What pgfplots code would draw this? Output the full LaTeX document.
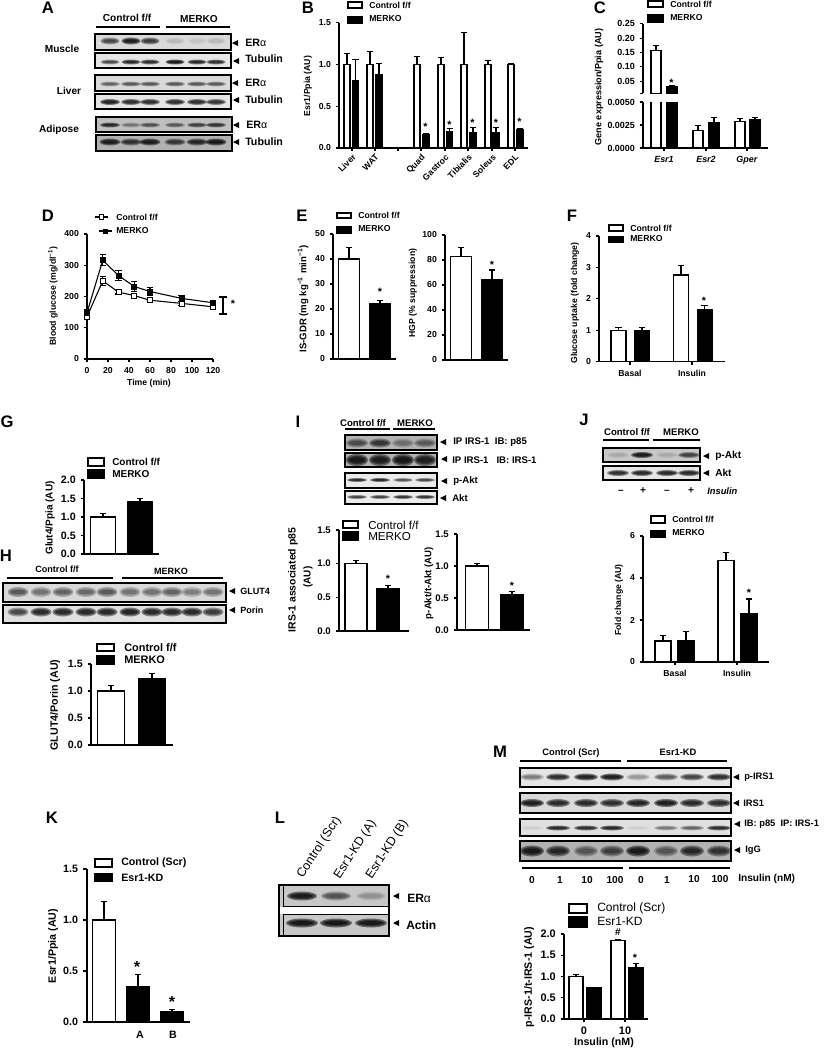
\documentclass[border=0pt]{standalone}
\usepackage{fontspec}
\setmainfont{Liberation Sans}
\usepackage{pgfplots}
\pgfplotsset{compat=1.18}

% 1 px of the reference = 0.75pt
\def\px{0.75pt}
\newcommand{\fs}[1]{\fontsize{#1}{#1}\selectfont}

\pgfplotsset{
  panel/.style n args={4}{
    scale only axis, anchor=south west,
    at={({#1*\px},{-#3*\px})},
    width={(#2-#1)*\px}, height={(#3-#4)*\px},
    xmin=#1, xmax=#2, ymin=0,
    axis x line=bottom, axis y line=left,
    axis line style={-, line width=0.9pt},
    tick align=outside, major tick length=2.6pt,
    tick style={black, line width=0.8pt},
    clip=false, xtick=\empty, scaled ticks=false,
    /pgf/number format/assume math mode=true,
    tick label style={font=\bfseries\fs{6.5}},
    y tick label style={/pgf/number format/.cd, fixed, fixed zerofill, precision=1},
  },
  onebar/.style 2 args={
    ybar, bar shift=0pt, bar width={#1*\px}, fill=#2, draw=black, line width=0.9pt,
    mark=none,
    error bars/.cd, y dir=plus, y explicit,
    error bar style={black, line width=0.8pt},
    error mark options={rotate=90, black, mark size=2.4pt, line width=0.8pt},
  },
  wb/.style={onebar={#1}{white}},
  kb/.style={onebar={#1}{black}},
  glc/.style={
    black, line width=0.8pt, mark=square*, mark size=1.9pt, mark options={fill=#1, draw=black, line width=0.6pt},
    error bars/.cd, y dir=both, y explicit,
    error bar style={black, line width=0.8pt},
    error mark options={rotate=90, black, mark size=2.4pt, line width=0.8pt},
  },
}

% pixel-placed text
\newcommand{\btxt}[4]{\node[anchor=west,inner sep=0pt,font=\bfseries\fs{#3}] at (#1,#2) {#4};}
\newcommand{\rtxt}[4]{\node[anchor=west,inner sep=0pt,font=\fs{#3}] at (#1,#2) {#4};}
\newcommand{\ctxt}[4]{\node[anchor=center,inner sep=0pt,font=\bfseries\fs{#3}] at (#1,#2) {#4};}
\newcommand{\vtxt}[4]{\node[anchor=center,rotate=90,inner sep=0pt,font=\bfseries\fs{#3}] at (#1,#2) {#4};}
\newcommand{\leg}[5]{\draw[black,line width=0.9pt,fill=#5] (#1,#2) rectangle (#3,#4);}
\newcommand{\arr}[2]{\fill[black] (#1,#2) -- (#1+6,#2-3) -- (#1+6,#2+3) -- cycle;}
\newcommand{\rul}[3]{\draw[black,line width=1pt] (#1,#3) -- (#2,#3);}
\newcommand{\astk}[2]{\node[anchor=center,inner sep=0pt,font=\bfseries\fs{8}] at (#1,#2+1.5) {*};}
\newcommand{\bastk}[2]{\node[anchor=center,inner sep=0pt,font=\bfseries\fs{12}] at (#1,#2+2) {*};}

% blot: x1 y1 x2 y2 background% band-y band-w band-h lanes(x/darkness)
\newcommand{\blot}[9]{%
  \begin{scope}
    \clip (#1,#2) rectangle (#3,#4);
    \fill[black!#5] (#1,#2) rectangle (#3,#4);
    \foreach \cx/\dk in {#9}{%
      \pgfmathsetmacro\op{\dk*0.5}%
      \fill[black,opacity=\op] (\cx,#6) ellipse ({#7/2} and {#8/2});
      \fill[black,opacity=\op] (\cx,#6) ellipse ({#7*0.43} and {#8*0.35});
      \fill[black,opacity=\op] (\cx,#6) ellipse ({#7*0.35} and {#8*0.22});
    }
  \end{scope}
  \draw[black,line width=0.95pt] (#1,#2) rectangle (#3,#4);
}

\begin{document}
\begin{tikzpicture}
\path[use as bounding box] (0pt,0pt) rectangle (624pt,-787.5pt);

% B
\begin{axis}[panel={339}{528}{148}{22.7}, ymax=1.5, ytick={0,0.5,1,1.5},
  xtick={352,375,398,421,445,468,492,515},
  xticklabels={Liver,WAT,,Quad,Gastroc,Tibialis,Soleus,EDL},
  x tick label style={rotate=45, anchor=north east, inner sep=1pt}]
\addplot[wb=6] coordinates {(347,1.0) +- (0,0.13)};
\addplot[kb=6] coordinates {(355.6,0.81) +- (0,0.25)};
\addplot[wb=6] coordinates {(370,1.0) +- (0,0.15)};
\addplot[kb=6] coordinates {(379,0.88) +- (0,0.13)};
\addplot[wb=6] coordinates {(417,1.0) +- (0,0.10)};
\addplot[kb=6] coordinates {(426,0.16) +- (0,0.01)};
\addplot[wb=6] coordinates {(441,1.0) +- (0,0.08)};
\addplot[kb=6] coordinates {(449.7,0.20) +- (0,0.03)};
\addplot[wb=6] coordinates {(464,1.0) +- (0,0.38)};
\addplot[kb=6] coordinates {(473,0.19) +- (0,0.05)};
\addplot[wb=6] coordinates {(488,1.0) +- (0,0.05)};
\addplot[kb=6] coordinates {(496,0.19) +- (0,0.05)};
\addplot[wb=6] coordinates {(511,1.0) +- (0,0.01)};
\addplot[kb=6] coordinates {(520,0.22) +- (0,0.015)};
\end{axis}

% C, broken axis: lower part
\begin{axis}[panel={643}{768}{148}{102}, ymax=0.005, clip=true, ytick={0,0.0025,0.005},
  tick label style={font=\bfseries\fs{6.7}},
  y tick label style={/pgf/number format/.cd, fixed, fixed zerofill, precision=4},
  xtick={664,706,747}, xticklabels={\textit{Esr1},\textit{Esr2},\textit{Gper}}]
\addplot[wb=10] coordinates {(656,0.157) +- (0,0.018)};
\addplot[kb=10] coordinates {(672,0.032) +- (0,0.002)};
\addplot[wb=10] coordinates {(698,0.0019) +- (0,0.0005)};
\addplot[kb=10] coordinates {(714,0.0028) +- (0,0.0005)};
\addplot[wb=10] coordinates {(740,0.0029) +- (0,0.0003)};
\addplot[kb=10] coordinates {(755,0.0031) +- (0,0.0002)};
\end{axis}
% C, upper part
\begin{axis}[panel={643}{768}{93.3}{23.7}, ymin=0.008, ymax=0.25, clip=true, axis x line=none,
  tick label style={font=\bfseries\fs{6.7}},
  ytick={0.008,0.05,0.10,0.15,0.20,0.25}, yticklabels={,0.05,0.10,0.15,0.20,0.25}]
\addplot[wb=10] coordinates {(656,0.157) +- (0,0.018)};
\addplot[kb=10] coordinates {(672,0.032) +- (0,0.002)};
\end{axis}

% D
\begin{axis}[panel={87}{213}{359}{234}, xmin=0, xmax=120, ymax=400,
  xtick={0,20,...,120}, ytick={0,100,...,400},
  y tick label style={/pgf/number format/.cd, fixed, precision=0}]
\addplot[glc=white] coordinates {
  (0,135) +- (0,10) (15,250) +- (0,14) (30,214) +- (0,6) (45,203) +- (0,8)
  (60,188) +- (0,7) (90,178) +- (0,6) (120,167) +- (0,5)};
\addplot[glc=black] coordinates {
  (0,148) +- (0,9) (15,316) +- (0,17) (30,267) +- (0,15) (45,232) +- (0,15)
  (60,216) +- (0,12) (90,194) +- (0,9) (120,180) +- (0,7)};
\end{axis}

% E left
\begin{axis}[panel={333}{396}{359}{234}, ymax=50, ytick={0,10,...,50},
  y tick label style={/pgf/number format/.cd, fixed, precision=0}]
\addplot[wb=21] coordinates {(349,40) +- (0,4.5)};
\addplot[kb=21] coordinates {(380,22) +- (0,1.5)};
\end{axis}
% E right
\begin{axis}[panel={445}{508}{360}{235}, ymax=100, ytick={0,20,...,100},
  y tick label style={/pgf/number format/.cd, fixed, precision=0}]
\addplot[wb=21] coordinates {(461,83) +- (0,7)};
\addplot[kb=21] coordinates {(492,64) +- (0,8)};
\end{axis}

% F
\begin{axis}[panel={599}{725}{361.7}{236}, ymax=4, ytick={0,1,...,4},
  y tick label style={/pgf/number format/.cd, fixed, precision=0},
  xtick={630,692}, xticklabels={Basal,Insulin}]
\addplot[wb=15] coordinates {(618.5,1.0) +- (0,0.08)};
\addplot[kb=15] coordinates {(642,1.0) +- (0,0.10)};
\addplot[wb=15] coordinates {(681,2.76) +- (0,0.29)};
\addplot[kb=15] coordinates {(704.6,1.66) +- (0,0.14)};
\end{axis}

% G
\begin{axis}[panel={84}{159}{554}{480}, ymax=2, ytick={0,0.5,...,2},
  tick label style={font=\bfseries\fs{8}}]
\addplot[wb=25] coordinates {(103,1.0) +- (0,0.10)};
\addplot[kb=25] coordinates {(140,1.41) +- (0,0.08)};
\end{axis}

% H
\begin{axis}[panel={91}{173}{745}{664}, ymax=1.5, ytick={0,0.5,...,1.5},
  tick label style={font=\bfseries\fs{8}}]
\addplot[wb=27] coordinates {(111,1.0) +- (0,0.10)};
\addplot[kb=27] coordinates {(152,1.23) +- (0,0.10)};
\end{axis}

% I left
\begin{axis}[panel={339}{409}{631}{530}, ymax=1.5, ytick={0,0.5,...,1.5},
  tick label style={font=\bfseries\fs{7.2}}]
\addplot[wb=22] coordinates {(356,1.0) +- (0,0.05)};
\addplot[kb=22] coordinates {(388,0.63) +- (0,0.05)};
\end{axis}
% I right
\begin{axis}[panel={457}{530}{630}{534}, ymax=1.5, ytick={0,0.5,...,1.5},
  tick label style={font=\bfseries\fs{7.2}}]
\addplot[wb=23] coordinates {(477,1.0) +- (0,0.04)};
\addplot[kb=23] coordinates {(512,0.56) +- (0,0.04)};
\end{axis}

% J
\begin{axis}[panel={643}{769}{662}{536}, ymax=6, ytick={0,2,4,6},
  y tick label style={/pgf/number format/.cd, fixed, precision=0},
  xtick={675,737}, xticklabels={Basal,Insulin}]
\addplot[wb=16] coordinates {(663,1.0) +- (0,0.25)};
\addplot[kb=16] coordinates {(686,1.0) +- (0,0.47)};
\addplot[wb=16] coordinates {(726,4.85) +- (0,0.37)};
\addplot[kb=16] coordinates {(749,2.3) +- (0,0.70)};
\end{axis}

% K
\begin{axis}[panel={87}{190}{1022}{869}, ymax=1.5, ytick={0,0.5,...,1.5},
  major tick length=3.2pt, tick label style={font=\bfseries\fs{8}},
  xtick={140,173}, xticklabels={A,B}, x tick style={draw=none}]
\addplot[wb=23] coordinates {(104,1.0) +- (0,0.18)};
\addplot[kb=23] coordinates {(138,0.35) +- (0,0.12)};
\addplot[kb=23] coordinates {(172,0.10) +- (0,0.02)};
\end{axis}

% M
\begin{axis}[panel={564}{648}{1019}{934}, ymax=2, ytick={0,0.5,...,2},
  tick label style={font=\bfseries\fs{8.2}},
  xtick={584,625}, xticklabels={0,10}]
\addplot[wb=14] coordinates {(576,1.0) +- (0,0.05)};
\addplot[kb=14] coordinates {(594,0.74) +- (0,0.01)};
\addplot[wb=14] coordinates {(618,1.85) +- (0,0.03)};
\addplot[kb=14] coordinates {(636,1.2) +- (0,0.10)};
\end{axis}

\begin{scope}[x=0.75pt,y=-0.75pt]
% panel letters
\ctxt{48}{8}{12.5}{A}\ctxt{308}{8}{12.5}{B}\ctxt{600}{8}{12.5}{C}
\ctxt{48}{216}{12.5}{D}\ctxt{302}{216}{12.5}{E}\ctxt{572}{216}{12.5}{F}
\ctxt{7}{422}{12.5}{G}\ctxt{6}{556}{12.5}{H}\ctxt{298}{422}{12.5}{I}
\ctxt{584}{420}{12.5}{J}\ctxt{52}{818}{12.5}{K}\ctxt{280}{818}{12.5}{L}\ctxt{500}{752}{12.5}{M}

% A blots
\ctxt{127}{18}{7.6}{Control f/f}\ctxt{199}{19}{7.6}{MERKO}
\rul{96}{160}{27}\rul{166}{230}{27}
\ctxt{62}{49}{7.6}{Muscle}\ctxt{69}{91}{7.6}{Liver}\ctxt{59}{130}{7.6}{Adipose}
\blot{95}{34}{231}{50}{15}{41}{19}{7}{110/.6,131/.95,150/.7,175/.1,197/.06,216/.1}
\blot{95}{53}{231}{68}{10}{62}{19}{5}{110/.6,131/.85,150/.8,175/1,197/.85,216/.8}
\blot{95}{75}{231}{91}{15}{84}{20}{5}{110/.45,131/.5,150/.5,175/.5,197/.5,216/.5}
\blot{95}{94}{231}{109}{10}{102}{20}{6}{110/.9,131/.8,150/.8,175/.8,197/.8,216/.75}
\blot{96}{117}{232}{132}{25}{125}{20}{5}{110/.8,131/.3,150/.5,175/.45,197/.6,216/.7}
\blot{96}{135}{232}{151}{30}{142}{21}{7}{110/.9,131/.7,150/.9,175/.65,197/.8,216/.95}
\arr{232}{43}\arr{233}{61}\arr{232}{83}\arr{233}{100}\arr{233}{125}\arr{233}{142}
\btxt{245}{43}{8}{ER{\normalfont α}}\btxt{245}{59}{8}{Tubulin}
\btxt{245}{83}{8}{ER{\normalfont α}}\btxt{245}{100}{8}{Tubulin}
\btxt{246}{125}{8}{ER{\normalfont α}}\btxt{245}{142}{8}{Tubulin}

% B text
\leg{348}{2}{362}{8}{white}\leg{348}{17}{362}{23}{black}
\btxt{369}{5}{6.5}{Control f/f}\btxt{369}{19}{6.5}{MERKO}
\vtxt{308}{86}{6.5}{Esr1/Ppia (AU)}
\astk{425.5}{125}\astk{449.5}{123}\astk{472.5}{121}\astk{496}{121}\astk{519.5}{120}

% C text
\leg{648}{1}{663}{7}{white}\leg{648}{15}{663}{22}{black}
\btxt{670}{4}{6.5}{Control f/f}\btxt{670}{18}{6.5}{MERKO}
\vtxt{599}{87}{6.8}{Gene expression/Ppia (AU)}
\astk{671.5}{81}

% D text
\draw[black,line width=0.8pt] (95,217) -- (108,217);
\draw[black,line width=0.6pt,fill=white] (99.5,214.8) rectangle (103.5,219.2);
\draw[black,line width=0.8pt] (99,231) -- (112,231);
\fill[black] (103,228.5) rectangle (107.5,233.5);
\btxt{116}{217}{6.5}{Control f/f}\btxt{116}{231}{6.5}{MERKO}
\vtxt{53}{296}{6.5}{Blood glucose (mg/dl\textsuperscript{−1})}
\ctxt{149}{383}{6.5}{Time (min)}
\draw[black,line width=0.8pt] (219,297) -- (227,297) (223,297) -- (223,314) (219,314) -- (227,314);
\astk{233}{302}

% E text
\leg{337}{213}{351}{218}{white}\leg{337}{227}{351}{233}{black}
\btxt{358}{215}{6.5}{Control f/f}\btxt{358}{229}{6.5}{MERKO}
\vtxt{303}{299}{7.2}{IS-GDR (mg kg\textsuperscript{−1} min\textsuperscript{−1})}
\astk{380}{290}
\vtxt{413}{293}{6.5}{HGP (\% suppression)}
\astk{492}{263}

% F text
\leg{609}{225}{623}{231}{white}\leg{609}{237}{623}{242}{black}
\btxt{630}{228}{6.5}{Control f/f}\btxt{630}{239}{6.5}{MERKO}
\vtxt{575}{303}{6.5}{Glucose uptake (fold change)}
\astk{704}{299}

% G text
\leg{88}{458}{104}{466}{white}\leg{88}{470}{104}{478}{black}
\btxt{112}{462}{7.5}{Control f/f}\btxt{112}{474}{7.5}{MERKO}
\vtxt{50}{518}{7.5}{Glut4/Ppia (AU)}

% H blots and text
\ctxt{57}{569}{6.8}{Control f/f}\ctxt{171}{571}{6.8}{MERKO}
\rul{7}{113}{578}\rul{122}{223}{578}
\blot{3}{583}{226}{602}{15}{592}{21}{10}{18/.5,41/.38,63/.45,86/.42,107/.5,130/.38,152/.38,172/.45,192/.32,213/.38}
\blot{3}{605}{226}{623}{12}{612}{21}{9}{18/.6,41/.85,63/.85,86/.85,107/.85,130/.9,152/.85,172/.85,192/.85,213/.7}
\arr{229}{591}\arr{229}{610}
\btxt{240}{591}{6.8}{GLUT4}\btxt{240}{610}{6.8}{Porin}
\leg{97}{644}{114}{651}{white}\leg{97}{656}{114}{664}{black}
\btxt{124}{648}{8.2}{Control f/f}\btxt{124}{660}{8.2}{MERKO}
\vtxt{55}{705}{8}{GLUT4/Porin (AU)}

% I blots and text
\ctxt{363}{423}{7.2}{Control f/f}\ctxt{415}{423}{7.2}{MERKO}
\rul{345}{390}{429}\rul{393}{435}{429}
\blot{345}{435}{437}{450}{30}{443}{22}{9}{357/.5,380/.65,403/.3,425/.4}
\blot{345}{453}{437}{467}{30}{460}{22}{12}{357/.95,380/.9,403/.95,425/.9}
\blot{345}{473}{437}{488}{8}{480}{20}{4}{357/.8,380/.85,403/.55,425/.6}
\blot{345}{491}{437}{504}{8}{497}{20}{4}{357/.65,380/.65,403/.75,425/.75}
\arr{440}{442}\arr{441}{459}\arr{441}{481}\arr{440}{498}
\btxt{453}{442}{7.2}{IP IRS-1 \ IB: p85}\btxt{452}{460}{7.2}{IP IRS-1 \ \ IB: IRS-1}
\btxt{453}{481}{7.2}{p-Akt}\btxt{452}{498}{7.2}{Akt}
\leg{343}{521}{358}{528}{white}\leg{343}{532}{358}{540}{black}
\rtxt{368}{525}{8.7}{Control f/f}\rtxt{368}{536}{8.7}{MERKO}
\vtxt{293}{580}{7.8}{IRS-1 associated p85}\vtxt{308}{577}{7.5}{(AU)}
\astk{388}{577}
\vtxt{429}{583}{7.2}{p-Akt/t-Akt (AU)}
\astk{512}{584}

% J blots and text
\ctxt{627}{432}{7.2}{Control f/f}\ctxt{681}{432}{7.2}{MERKO}
\rul{603}{649}{440}\rul{653}{700}{440}
\blot{603}{448}{700}{462}{22}{455}{22}{6}{618/.1,642/.95,667/.1,689/.6}
\blot{603}{466}{700}{480}{10}{473}{22}{6}{618/.8,642/.85,667/.85,689/.85}
\arr{703}{456}\arr{703}{473}
\btxt{715}{456}{7.6}{p-Akt}\btxt{715}{473}{7.6}{Akt}
\ctxt{621}{492}{7.5}{–}\ctxt{643}{491}{7.5}{+}\ctxt{667}{492}{7.5}{–}\ctxt{691}{491}{7.5}{+}
\btxt{707}{491}{7}{\itshape Insulin}
\leg{651}{516}{665}{523}{white}\leg{651}{531}{665}{537}{black}
\btxt{672}{519}{6.5}{Control f/f}\btxt{672}{533}{6.5}{MERKO}
\vtxt{619}{600}{6.5}{Fold change (AU)}
\astk{749}{591}

% K text
\leg{95}{859}{112}{867}{white}\leg{95}{874}{112}{881}{black}
\btxt{121}{863}{8}{Control (Scr)}\btxt{121}{878}{8}{Esr1-KD}
\vtxt{53}{946}{8}{Esr1/Ppia (AU)}
\bastk{137}{965}\bastk{172}{1000}

% L blot and text
\blot{283}{885}{389}{907}{22}{896}{30}{9}{302/.95,336/.5,371/.2}
\blot{283}{914}{389}{936}{22}{923}{32}{9}{302/1,336/1,371/1}
\fill[black!22] (279,885) rectangle (283,936);
\fill[white] (279,907) rectangle (389,914);
\draw[black,line width=1.1pt] (279,885) rectangle (389,936);
\arr{393}{896}\arr{393}{923}
\btxt{407}{898}{9}{ER{\normalfont α}}\btxt{406}{925}{9}{Actin}
\node[anchor=west,rotate=57,inner sep=0pt,font=\fs{9.3}] at (300,877) {Control (Scr)};
\node[anchor=west,rotate=57,inner sep=0pt,font=\fs{9.3}] at (337,878) {Esr1-KD (A)};
\node[anchor=west,rotate=57,inner sep=0pt,font=\fs{9.3}] at (369,878) {Esr1-KD (B)};

% M blots and text
\ctxt{571}{753}{7}{Control (Scr)}\ctxt{678}{752}{7}{Esr1-KD}
\rul{520}{621}{761}\rul{627}{727}{761}
\blot{520}{768}{731}{787}{10}{777}{24}{7}{532/.35,558/.8,586/.9,612/.95,638/.25,666/.5,692/.65,719/.8}
\blot{520}{793}{731}{813}{15}{803}{24}{8}{532/.95,558/.85,586/.85,612/.8,638/.9,666/.95,692/.85,719/.8}
\blot{520}{819}{731}{836}{12}{828}{24}{5}{532/.05,558/.85,586/.8,612/.85,638/.05,666/.35,692/.45,719/.8}
\blot{520}{841}{731}{861}{30}{851}{24}{11}{532/.95,558/.8,586/.45,612/.6,638/.95,666/.45,692/.8,719/.7}
\arr{733}{777}\arr{733}{803}\arr{734}{824}\arr{734}{850}
\btxt{744}{777}{7}{p-IRS1}\btxt{743}{803}{7}{IRS1}\btxt{744}{824}{7}{IB: p85 \ IP: IRS-1}\btxt{745}{850}{7}{IgG}
\rul{522}{623}{868}\rul{629}{730}{868}
\ctxt{532}{880}{7.6}{0}\ctxt{560}{880}{7.6}{1}\ctxt{587}{880}{7.6}{10}\ctxt{615}{880}{7.6}{100}
\ctxt{641}{880}{7.6}{0}\ctxt{667}{880}{7.6}{1}\ctxt{694}{879}{7.6}{10}\ctxt{720}{879}{7.6}{100}
\btxt{738}{879}{7.6}{Insulin (nM)}
\leg{569}{904}{587}{913}{white}\leg{569}{917}{587}{927}{black}
\rtxt{597}{908}{9}{Control (Scr)}\rtxt{597}{921}{9}{Esr1-KD}
\vtxt{529}{977}{8}{p-IRS-1/t-IRS-1 (AU)}
\ctxt{604}{1043}{8}{Insulin (nM)}
\ctxt{618}{932}{7.5}{\#}\astk{635}{956}
\end{scope}
\end{tikzpicture}
\end{document}
